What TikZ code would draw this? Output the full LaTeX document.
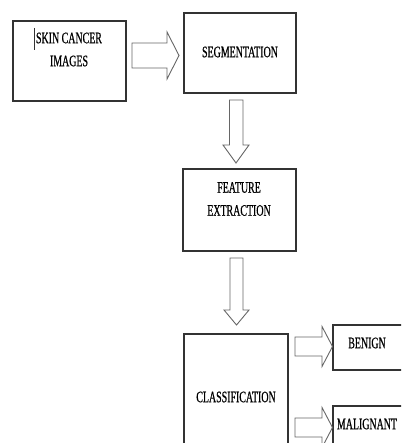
\documentclass[tikz,border=0pt]{standalone}
\usepackage{fontspec}
\setmainfont{Liberation Serif}
\newfontfamily\condfont[FakeStretch=0.62,FakeBold=0.6]{Liberation Serif}
\begin{document}
\begin{tikzpicture}[x=1pt,y=-1pt,
  box/.style={draw=black!80,line width=1.3pt,inner sep=0,fill=white},
  barrow/.style={draw=black!60,line width=0.9pt,fill=white,line join=miter},
  lbl/.style={font=\condfont\fontsize{16}{23}\selectfont,inner sep=0,align=center,text=black}]
\useasboundingbox (0,0) rectangle (401,443);
\clip (0,0) rectangle (401,443);
% boxes
\node[box,minimum width=113pt,minimum height=80pt] (img) at (69.5,61) {};
\node[box,minimum width=112pt,minimum height=80pt] (seg) at (240,53) {};
\node[box,minimum width=113pt,minimum height=82pt] (feat) at (239.5,210) {};
\node[box,minimum width=104pt,minimum height=136pt] (cls) at (236,402) {};
\node[box,minimum width=97pt,minimum height=45pt] (ben) at (381.5,347.5) {};
\node[box,minimum width=97pt,minimum height=64pt] (mal) at (381.5,438) {};
% texts
\node[lbl] (timg) at (69,49.5) {SKIN CANCER\\IMAGES};
\node[lbl] (tseg) at (240,52) {SEGMENTATION};
\node[lbl] (tfeat) at (239,199) {FEATURE\\EXTRACTION};
\node[lbl] (tcls) at (236,397) {CLASSIFICATION};
\node[lbl] (tben) at (367,343) {BENIGN};
\node[lbl] (tmal) at (367,424) {MALIGNANT};
% text cursor
\coordinate (c1) at (34.5,28);
\coordinate (c2) at (34.5,50);
\draw[line width=0.7pt,black!80] (c1) -- (c2);
% block arrows (right)
\draw[barrow] (132,43) -- (167,43) -- (167,32) -- (179,55.5) -- (167,79) -- (167,68) -- (132,68) -- cycle;
\draw[barrow] (295,337) -- (322,337) -- (322,326.5) -- (332.5,346.5) -- (322,366.5) -- (322,356) -- (295,356) -- cycle;
\draw[barrow] (295,418) -- (322,418) -- (322,407.5) -- (332.5,427.5) -- (322,447.5) -- (322,437) -- (295,437) -- cycle;
% block arrows (down)
\draw[barrow] (229.5,100) -- (243,100) -- (243,145) -- (249,145) -- (236,163) -- (223,145) -- (229.5,145) -- cycle;
\draw[barrow] (230,258) -- (243,258) -- (243,310) -- (249,310) -- (236.5,325) -- (224,310) -- (230,310) -- cycle;
\end{tikzpicture}
\end{document}
